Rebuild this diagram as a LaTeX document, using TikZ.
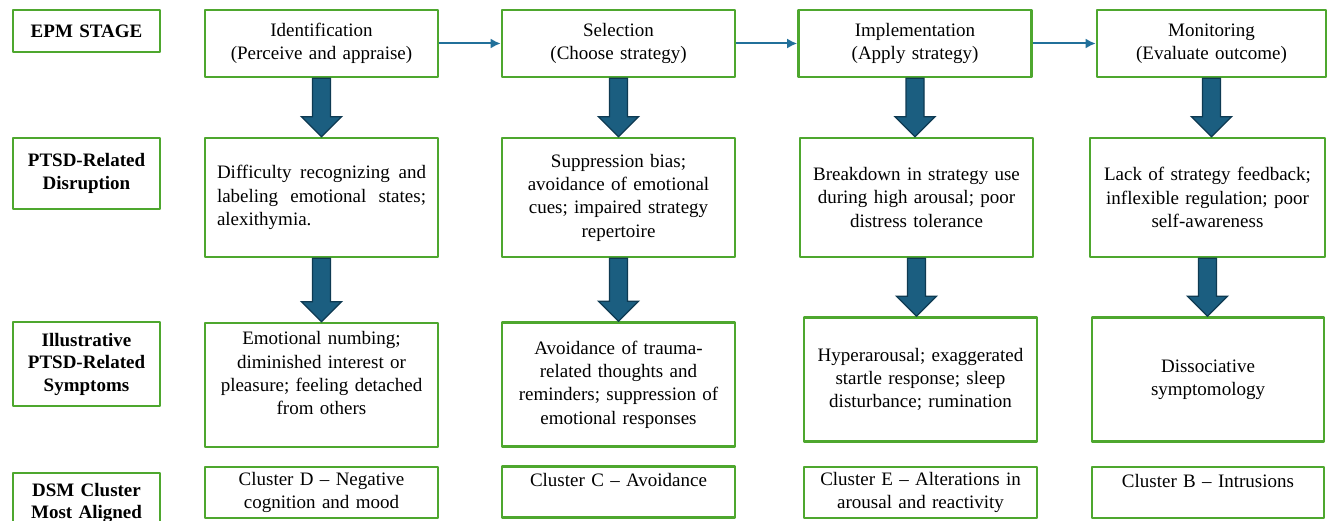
\documentclass[tikz,border=0pt]{standalone}
\usepackage{fontspec}
\setmainfont{Liberation Serif}
\usetikzlibrary{calc,arrows.meta}
\definecolor{boxgreen}{HTML}{4EA72E}
\definecolor{arrowfill}{HTML}{1B5E80}
\definecolor{arrowedge}{HTML}{0E3A52}
\definecolor{linkblue}{HTML}{21709A}
\newcommand\downblock[2]{%
  \draw[fill=arrowfill,draw=arrowedge,line width=1.3pt,line join=miter]
    let \p1=(#1.south),\p2=(#2.north) in
    (\x1-9pt,\y1)--(\x1+9pt,\y1)--(\x1+9pt,\y2+20pt)--(\x1+20pt,\y2+20pt)--(\x1,\y2)
    --(\x1-20pt,\y2+20pt)--(\x1-9pt,\y2+20pt)--cycle;}
\begin{document}
\begin{tikzpicture}[x=1pt,y=-1pt,line join=round,
    font=\fontsize{19}{23.3}\selectfont,
    gbox/.style={draw=boxgreen,line width=2.6pt,inner xsep=9pt,inner ysep=0pt,text width=215pt,align=center},
    stagebox/.style={gbox,minimum height=67},
    disbox/.style={gbox,minimum height=119},
    symbox/.style={gbox,minimum height=124},
    clbox/.style={gbox,minimum height=51},
    rowlabel/.style={draw=boxgreen,line width=2.6pt,inner xsep=6pt,inner ysep=0pt,text width=135pt,align=center,font=\fontsize{19}{22.5}\selectfont\bfseries},
    link/.style={draw=linkblue,line width=2pt,-{Latex[length=10pt,width=10pt]}}]
\useasboundingbox (0,0) rectangle (1329,521);
\clip (0,0) rectangle (1329,521);
\fill[white] (0,0) rectangle (1329,521);
\node[rowlabel,minimum height=42] (labstage) at (86.5,31) {EPM STAGE};
\node[rowlabel,minimum height=71] (labdis) at (86.5,173.5) {PTSD-Related\\Disruption};
\node[rowlabel,minimum height=84] (labsym) at (86.5,364) {Illustrative\\PTSD-Related\\Symptoms};
\node[rowlabel,minimum height=60] (labdsm) at (86.5,503) {DSM Cluster\\Most Aligned};
\node[stagebox] (ident) at (321.5,43.5) {Identification\\(Perceive and appraise)};
\node[stagebox] (select) at (618.5,43.5) {Selection\\(Choose strategy)};
\node[stagebox] (implem) at (915,43.5) {Implementation\\(Apply strategy)};
\node[stagebox,text width=211pt] (monit) at (1211.5,43.5) {Monitoring\\(Evaluate outcome)};
\node[disbox,inner xsep=12pt,text width=209pt,align=left] (disA) at (321.5,197.5)
  {Difficulty\hfill recognizing\hfill and\\labeling\hfill emotional\hfill states;\\alexithymia.};
\node[disbox] (disB) at (618.5,197.5) {Suppression bias;\\avoidance of emotional\\cues; impaired strategy\\repertoire};
\node[disbox] (disC) at (916.5,197.5) {Breakdown in strategy use\\during high arousal; poor\\distress tolerance};
\node[disbox,text width=217pt] (disD) at (1207.5,197.5) {Lack of strategy feedback;\\inflexible regulation; poor\\self-awareness};
\node[symbox] (symA) at (321.5,385) {Emotional numbing;\\diminished interest or\\pleasure; feeling detached\\from others\\\mbox{}};
\node[symbox] (symB) at (618.5,384.5) {Avoidance of trauma-\\related thoughts and\\reminders; suppression of\\emotional responses};
\node[symbox] (symC) at (920.5,379.5) {Hyperarousal; exaggerated\\startle response; sleep\\disturbance; rumination};
\node[symbox,text width=214pt] (symD) at (1208,379.5) {Dissociative\\symptomology};
\node[clbox] (clA) at (321.5,492.5) {Cluster D -- Negative\\cognition and mood};
\node[clbox] (clB) at (618.5,492) {Cluster C -- Avoidance\\\mbox{}};
\node[clbox] (clC) at (920.5,492.5) {Cluster E -- Alterations in\\arousal and reactivity};
\node[clbox,text width=214pt] (clD) at (1208,492.5) {Cluster B -- Intrusions\\\mbox{}};
\draw[link] (ident) -- (select);
\draw[link] (select) -- (implem);
\draw[link] (implem) -- (monit);
\downblock{ident}{disA}
\downblock{select}{disB}
\downblock{implem}{disC}
\downblock{monit}{disD}
\downblock{disA}{symA}
\downblock{disB}{symB}
\downblock{disC}{symC}
\downblock{disD}{symD}
\end{tikzpicture}
\end{document}
